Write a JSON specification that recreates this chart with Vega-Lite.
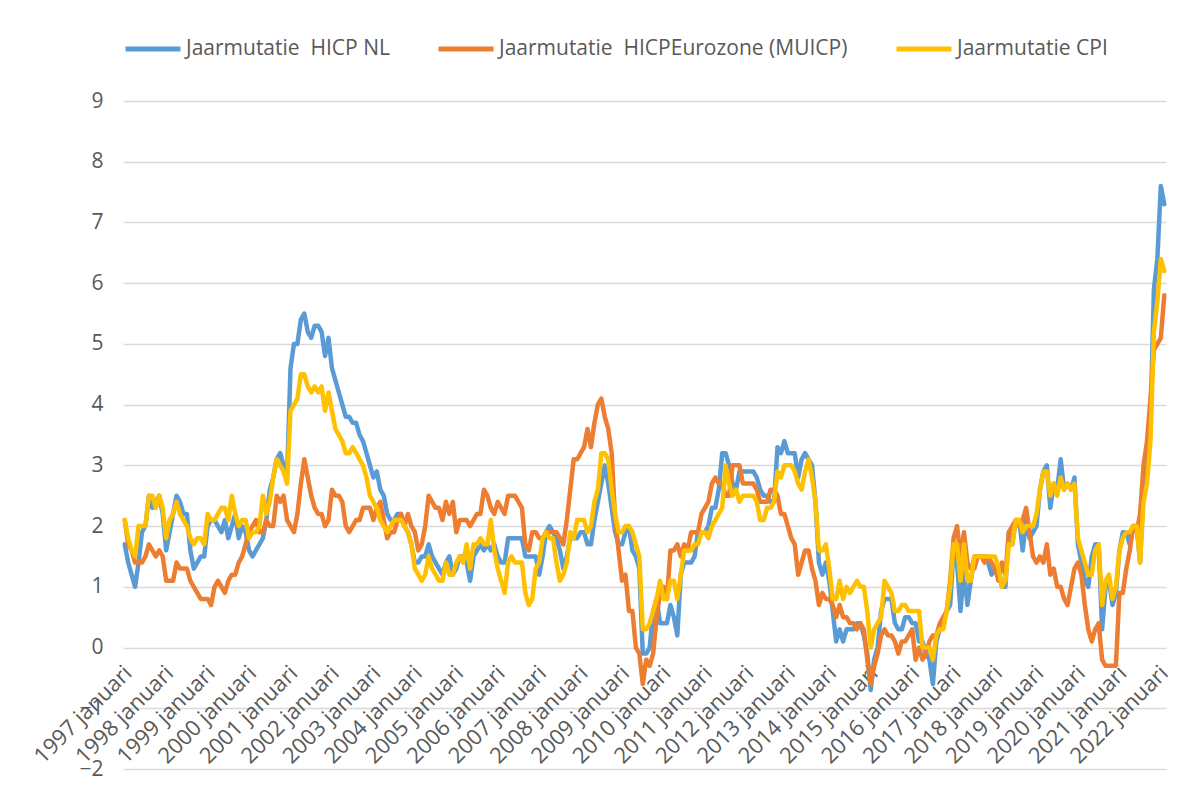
{
  "$schema": "https://vega.github.io/schema/vega-lite/v6.json",
  "width": 1043,
  "height": 668,
  "autosize": "none",
  "padding": {"left": 123, "top": 101, "right": 34, "bottom": 20},
  "background": "white",
  "config": {"view": {"stroke": null}, "font": "Open Sans"},
  "data": {"values": [
{"m":"1997-01","nl":1.7,"ez":2.1,"cpi":2.1},{"m":"1997-02","nl":1.4,"ez":1.7,"cpi":1.8},{"m":"1997-03","nl":1.2,"ez":1.6,"cpi":1.6},{"m":"1997-04","nl":1.0,"ez":1.4,"cpi":1.5},{"m":"1997-05","nl":1.4,"ez":1.4,"cpi":2.0},{"m":"1997-06","nl":1.9,"ez":1.4,"cpi":2.0},{"m":"1997-07","nl":2.0,"ez":1.5,"cpi":2.0},{"m":"1997-08","nl":2.5,"ez":1.7,"cpi":2.5},{"m":"1997-09","nl":2.3,"ez":1.6,"cpi":2.5},{"m":"1997-10","nl":2.4,"ez":1.5,"cpi":2.3},{"m":"1997-11","nl":2.5,"ez":1.6,"cpi":2.5},{"m":"1997-12","nl":2.2,"ez":1.5,"cpi":2.3},
{"m":"1998-01","nl":1.6,"ez":1.1,"cpi":1.8},{"m":"1998-02","nl":1.9,"ez":1.1,"cpi":2.1},{"m":"1998-03","nl":2.2,"ez":1.1,"cpi":2.2},{"m":"1998-04","nl":2.5,"ez":1.4,"cpi":2.4},{"m":"1998-05","nl":2.4,"ez":1.3,"cpi":2.2},{"m":"1998-06","nl":2.2,"ez":1.3,"cpi":2.1},{"m":"1998-07","nl":2.2,"ez":1.3,"cpi":2.0},{"m":"1998-08","nl":1.6,"ez":1.1,"cpi":1.8},{"m":"1998-09","nl":1.3,"ez":1.0,"cpi":1.7},{"m":"1998-10","nl":1.4,"ez":0.9,"cpi":1.8},{"m":"1998-11","nl":1.5,"ez":0.8,"cpi":1.8},{"m":"1998-12","nl":1.5,"ez":0.8,"cpi":1.7},
{"m":"1999-01","nl":2.0,"ez":0.8,"cpi":2.2},{"m":"1999-02","nl":2.1,"ez":0.7,"cpi":2.1},{"m":"1999-03","nl":2.1,"ez":1.0,"cpi":2.1},{"m":"1999-04","nl":2.0,"ez":1.1,"cpi":2.2},{"m":"1999-05","nl":1.9,"ez":1.0,"cpi":2.3},{"m":"1999-06","nl":2.1,"ez":0.9,"cpi":2.3},{"m":"1999-07","nl":1.8,"ez":1.1,"cpi":2.1},{"m":"1999-08","nl":2.0,"ez":1.2,"cpi":2.5},{"m":"1999-09","nl":2.2,"ez":1.2,"cpi":2.2},{"m":"1999-10","nl":1.8,"ez":1.4,"cpi":2.0},{"m":"1999-11","nl":2.0,"ez":1.5,"cpi":2.1},{"m":"1999-12","nl":1.9,"ez":1.7,"cpi":2.1},
{"m":"2000-01","nl":1.6,"ez":1.9,"cpi":1.8},{"m":"2000-02","nl":1.5,"ez":2.0,"cpi":1.9},{"m":"2000-03","nl":1.6,"ez":2.1,"cpi":1.9},{"m":"2000-04","nl":1.7,"ez":1.9,"cpi":2.0},{"m":"2000-05","nl":1.8,"ez":1.9,"cpi":2.5},{"m":"2000-06","nl":2.1,"ez":2.1,"cpi":2.2},{"m":"2000-07","nl":2.6,"ez":2.0,"cpi":2.4},{"m":"2000-08","nl":2.8,"ez":2.0,"cpi":2.8},{"m":"2000-09","nl":3.1,"ez":2.5,"cpi":3.1},{"m":"2000-10","nl":3.2,"ez":2.4,"cpi":3.0},{"m":"2000-11","nl":3.0,"ez":2.5,"cpi":2.9},{"m":"2000-12","nl":2.8,"ez":2.1,"cpi":2.7},
{"m":"2001-01","nl":4.6,"ez":2.0,"cpi":3.9},{"m":"2001-02","nl":5.0,"ez":1.9,"cpi":4.0},{"m":"2001-03","nl":5.0,"ez":2.2,"cpi":4.1},{"m":"2001-04","nl":5.4,"ez":2.7,"cpi":4.5},{"m":"2001-05","nl":5.5,"ez":3.1,"cpi":4.5},{"m":"2001-06","nl":5.2,"ez":2.8,"cpi":4.3},{"m":"2001-07","nl":5.1,"ez":2.5,"cpi":4.2},{"m":"2001-08","nl":5.3,"ez":2.3,"cpi":4.3},{"m":"2001-09","nl":5.3,"ez":2.2,"cpi":4.2},{"m":"2001-10","nl":5.2,"ez":2.2,"cpi":4.3},{"m":"2001-11","nl":4.8,"ez":2.0,"cpi":3.9},{"m":"2001-12","nl":5.1,"ez":2.1,"cpi":4.2},
{"m":"2002-01","nl":4.6,"ez":2.6,"cpi":3.9},{"m":"2002-02","nl":4.4,"ez":2.5,"cpi":3.6},{"m":"2002-03","nl":4.2,"ez":2.5,"cpi":3.5},{"m":"2002-04","nl":4.0,"ez":2.4,"cpi":3.4},{"m":"2002-05","nl":3.8,"ez":2.0,"cpi":3.2},{"m":"2002-06","nl":3.8,"ez":1.9,"cpi":3.2},{"m":"2002-07","nl":3.7,"ez":2.0,"cpi":3.3},{"m":"2002-08","nl":3.7,"ez":2.1,"cpi":3.2},{"m":"2002-09","nl":3.5,"ez":2.1,"cpi":3.1},{"m":"2002-10","nl":3.4,"ez":2.3,"cpi":3.0},{"m":"2002-11","nl":3.2,"ez":2.3,"cpi":2.8},{"m":"2002-12","nl":3.0,"ez":2.3,"cpi":2.5},
{"m":"2003-01","nl":2.8,"ez":2.1,"cpi":2.4},{"m":"2003-02","nl":2.9,"ez":2.3,"cpi":2.3},{"m":"2003-03","nl":2.6,"ez":2.4,"cpi":2.1},{"m":"2003-04","nl":2.5,"ez":2.1,"cpi":2.0},{"m":"2003-05","nl":2.2,"ez":1.8,"cpi":1.9},{"m":"2003-06","nl":2.1,"ez":1.9,"cpi":2.0},{"m":"2003-07","nl":2.1,"ez":1.9,"cpi":2.1},{"m":"2003-08","nl":2.2,"ez":2.1,"cpi":2.1},{"m":"2003-09","nl":2.2,"ez":2.2,"cpi":2.1},{"m":"2003-10","nl":2.0,"ez":2.0,"cpi":2.0},{"m":"2003-11","nl":1.9,"ez":2.2,"cpi":1.9},{"m":"2003-12","nl":1.7,"ez":2.0,"cpi":1.7},
{"m":"2004-01","nl":1.4,"ez":1.9,"cpi":1.3},{"m":"2004-02","nl":1.4,"ez":1.6,"cpi":1.2},{"m":"2004-03","nl":1.5,"ez":1.7,"cpi":1.1},{"m":"2004-04","nl":1.5,"ez":2.0,"cpi":1.2},{"m":"2004-05","nl":1.7,"ez":2.5,"cpi":1.5},{"m":"2004-06","nl":1.5,"ez":2.4,"cpi":1.3},{"m":"2004-07","nl":1.4,"ez":2.3,"cpi":1.2},{"m":"2004-08","nl":1.3,"ez":2.3,"cpi":1.1},{"m":"2004-09","nl":1.2,"ez":2.1,"cpi":1.1},{"m":"2004-10","nl":1.4,"ez":2.4,"cpi":1.4},{"m":"2004-11","nl":1.5,"ez":2.2,"cpi":1.2},{"m":"2004-12","nl":1.2,"ez":2.4,"cpi":1.2},
{"m":"2005-01","nl":1.3,"ez":1.9,"cpi":1.4},{"m":"2005-02","nl":1.5,"ez":2.1,"cpi":1.5},{"m":"2005-03","nl":1.5,"ez":2.1,"cpi":1.4},{"m":"2005-04","nl":1.4,"ez":2.1,"cpi":1.7},{"m":"2005-05","nl":1.1,"ez":2.0,"cpi":1.3},{"m":"2005-06","nl":1.5,"ez":2.1,"cpi":1.7},{"m":"2005-07","nl":1.6,"ez":2.2,"cpi":1.7},{"m":"2005-08","nl":1.7,"ez":2.2,"cpi":1.8},{"m":"2005-09","nl":1.6,"ez":2.6,"cpi":1.7},{"m":"2005-10","nl":1.7,"ez":2.5,"cpi":1.7},{"m":"2005-11","nl":1.6,"ez":2.3,"cpi":2.1},{"m":"2005-12","nl":1.7,"ez":2.2,"cpi":1.6},
{"m":"2006-01","nl":1.5,"ez":2.4,"cpi":1.3},{"m":"2006-02","nl":1.4,"ez":2.3,"cpi":1.1},{"m":"2006-03","nl":1.4,"ez":2.2,"cpi":0.9},{"m":"2006-04","nl":1.8,"ez":2.5,"cpi":1.4},{"m":"2006-05","nl":1.8,"ez":2.5,"cpi":1.5},{"m":"2006-06","nl":1.8,"ez":2.5,"cpi":1.4},{"m":"2006-07","nl":1.8,"ez":2.4,"cpi":1.4},{"m":"2006-08","nl":1.8,"ez":2.3,"cpi":1.4},{"m":"2006-09","nl":1.5,"ez":1.7,"cpi":0.9},{"m":"2006-10","nl":1.5,"ez":1.6,"cpi":0.7},{"m":"2006-11","nl":1.5,"ez":1.9,"cpi":0.8},{"m":"2006-12","nl":1.5,"ez":1.9,"cpi":1.3},
{"m":"2007-01","nl":1.2,"ez":1.8,"cpi":1.4},{"m":"2007-02","nl":1.5,"ez":1.8,"cpi":1.8},{"m":"2007-03","nl":1.9,"ez":1.9,"cpi":1.9},{"m":"2007-04","nl":2.0,"ez":1.9,"cpi":1.8},{"m":"2007-05","nl":1.9,"ez":1.9,"cpi":1.8},{"m":"2007-06","nl":1.8,"ez":1.9,"cpi":1.4},{"m":"2007-07","nl":1.6,"ez":1.8,"cpi":1.1},{"m":"2007-08","nl":1.3,"ez":1.7,"cpi":1.2},{"m":"2007-09","nl":1.5,"ez":2.1,"cpi":1.4},{"m":"2007-10","nl":1.8,"ez":2.6,"cpi":1.9},{"m":"2007-11","nl":1.8,"ez":3.1,"cpi":1.8},{"m":"2007-12","nl":1.8,"ez":3.1,"cpi":2.1},
{"m":"2008-01","nl":1.9,"ez":3.2,"cpi":2.1},{"m":"2008-02","nl":1.9,"ez":3.3,"cpi":2.1},{"m":"2008-03","nl":1.7,"ez":3.6,"cpi":1.9},{"m":"2008-04","nl":1.7,"ez":3.3,"cpi":2.0},{"m":"2008-05","nl":2.1,"ez":3.7,"cpi":2.4},{"m":"2008-06","nl":2.4,"ez":4.0,"cpi":2.6},{"m":"2008-07","nl":2.7,"ez":4.1,"cpi":3.2},{"m":"2008-08","nl":3.0,"ez":3.8,"cpi":3.2},{"m":"2008-09","nl":2.7,"ez":3.6,"cpi":3.1},{"m":"2008-10","nl":2.3,"ez":3.2,"cpi":2.6},{"m":"2008-11","nl":1.9,"ez":2.1,"cpi":2.2},{"m":"2008-12","nl":1.7,"ez":1.6,"cpi":1.9},
{"m":"2009-01","nl":1.7,"ez":1.1,"cpi":1.9},{"m":"2009-02","nl":1.9,"ez":1.2,"cpi":2.0},{"m":"2009-03","nl":2.0,"ez":0.6,"cpi":2.0},{"m":"2009-04","nl":1.6,"ez":0.6,"cpi":1.9},{"m":"2009-05","nl":1.5,"ez":0.0,"cpi":1.7},{"m":"2009-06","nl":1.3,"ez":-0.1,"cpi":1.5},{"m":"2009-07","nl":-0.1,"ez":-0.6,"cpi":0.3},{"m":"2009-08","nl":-0.1,"ez":-0.2,"cpi":0.3},{"m":"2009-09","nl":0.0,"ez":-0.3,"cpi":0.4},{"m":"2009-10","nl":0.6,"ez":-0.1,"cpi":0.6},{"m":"2009-11","nl":0.8,"ez":0.5,"cpi":0.8},{"m":"2009-12","nl":0.4,"ez":0.9,"cpi":1.1},
{"m":"2010-01","nl":0.4,"ez":1.0,"cpi":0.8},{"m":"2010-02","nl":0.4,"ez":0.8,"cpi":0.8},{"m":"2010-03","nl":0.7,"ez":1.6,"cpi":1.1},{"m":"2010-04","nl":0.5,"ez":1.6,"cpi":1.1},{"m":"2010-05","nl":0.2,"ez":1.7,"cpi":0.8},{"m":"2010-06","nl":1.2,"ez":1.5,"cpi":1.2},{"m":"2010-07","nl":1.4,"ez":1.7,"cpi":1.6},{"m":"2010-08","nl":1.4,"ez":1.6,"cpi":1.6},{"m":"2010-09","nl":1.4,"ez":1.9,"cpi":1.6},{"m":"2010-10","nl":1.5,"ez":1.9,"cpi":1.7},{"m":"2010-11","nl":1.9,"ez":1.9,"cpi":1.7},{"m":"2010-12","nl":1.9,"ez":2.2,"cpi":1.9},
{"m":"2011-01","nl":1.9,"ez":2.3,"cpi":1.9},{"m":"2011-02","nl":2.0,"ez":2.4,"cpi":1.8},{"m":"2011-03","nl":2.3,"ez":2.7,"cpi":2.0},{"m":"2011-04","nl":2.3,"ez":2.8,"cpi":2.1},{"m":"2011-05","nl":2.6,"ez":2.7,"cpi":2.2},{"m":"2011-06","nl":3.2,"ez":2.7,"cpi":2.3},{"m":"2011-07","nl":3.2,"ez":2.5,"cpi":3.0},{"m":"2011-08","nl":3.0,"ez":2.5,"cpi":2.7},{"m":"2011-09","nl":2.7,"ez":3.0,"cpi":2.5},{"m":"2011-10","nl":2.6,"ez":3.0,"cpi":2.6},{"m":"2011-11","nl":2.9,"ez":3.0,"cpi":2.4},{"m":"2011-12","nl":2.9,"ez":2.7,"cpi":2.5},
{"m":"2012-01","nl":2.9,"ez":2.7,"cpi":2.5},{"m":"2012-02","nl":2.9,"ez":2.7,"cpi":2.5},{"m":"2012-03","nl":2.9,"ez":2.7,"cpi":2.5},{"m":"2012-04","nl":2.8,"ez":2.6,"cpi":2.4},{"m":"2012-05","nl":2.6,"ez":2.4,"cpi":2.1},{"m":"2012-06","nl":2.5,"ez":2.4,"cpi":2.1},{"m":"2012-07","nl":2.5,"ez":2.4,"cpi":2.3},{"m":"2012-08","nl":2.4,"ez":2.6,"cpi":2.3},{"m":"2012-09","nl":2.4,"ez":2.6,"cpi":2.4},{"m":"2012-10","nl":3.3,"ez":2.5,"cpi":2.9},{"m":"2012-11","nl":3.2,"ez":2.2,"cpi":2.8},{"m":"2012-12","nl":3.4,"ez":2.2,"cpi":3.0},
{"m":"2013-01","nl":3.2,"ez":2.0,"cpi":3.0},{"m":"2013-02","nl":3.2,"ez":1.8,"cpi":3.0},{"m":"2013-03","nl":3.2,"ez":1.7,"cpi":2.9},{"m":"2013-04","nl":2.8,"ez":1.2,"cpi":2.7},{"m":"2013-05","nl":3.1,"ez":1.4,"cpi":2.6},{"m":"2013-06","nl":3.2,"ez":1.6,"cpi":2.9},{"m":"2013-07","nl":3.1,"ez":1.6,"cpi":3.1},{"m":"2013-08","nl":3.0,"ez":1.3,"cpi":2.8},{"m":"2013-09","nl":2.4,"ez":1.1,"cpi":2.4},{"m":"2013-10","nl":1.4,"ez":0.7,"cpi":1.6},{"m":"2013-11","nl":1.2,"ez":0.9,"cpi":1.6},{"m":"2013-12","nl":1.4,"ez":0.8,"cpi":1.7},
{"m":"2014-01","nl":1.1,"ez":0.8,"cpi":1.3},{"m":"2014-02","nl":0.6,"ez":0.7,"cpi":0.8},{"m":"2014-03","nl":0.1,"ez":0.5,"cpi":0.8},{"m":"2014-04","nl":0.3,"ez":0.7,"cpi":1.1},{"m":"2014-05","nl":0.1,"ez":0.5,"cpi":0.8},{"m":"2014-06","nl":0.3,"ez":0.5,"cpi":1.0},{"m":"2014-07","nl":0.3,"ez":0.4,"cpi":0.9},{"m":"2014-08","nl":0.3,"ez":0.4,"cpi":1.0},{"m":"2014-09","nl":0.4,"ez":0.3,"cpi":1.1},{"m":"2014-10","nl":0.4,"ez":0.4,"cpi":1.0},{"m":"2014-11","nl":0.2,"ez":0.3,"cpi":1.0},{"m":"2014-12","nl":-0.1,"ez":-0.2,"cpi":0.6},
{"m":"2015-01","nl":-0.7,"ez":-0.6,"cpi":0.0},{"m":"2015-02","nl":-0.2,"ez":-0.3,"cpi":0.3},{"m":"2015-03","nl":0.0,"ez":-0.1,"cpi":0.4},{"m":"2015-04","nl":0.6,"ez":0.2,"cpi":0.5},{"m":"2015-05","nl":0.8,"ez":0.3,"cpi":1.1},{"m":"2015-06","nl":0.8,"ez":0.2,"cpi":1.0},{"m":"2015-07","nl":0.8,"ez":0.2,"cpi":0.9},{"m":"2015-08","nl":0.4,"ez":0.1,"cpi":0.6},{"m":"2015-09","nl":0.3,"ez":-0.1,"cpi":0.6},{"m":"2015-10","nl":0.3,"ez":0.1,"cpi":0.7},{"m":"2015-11","nl":0.5,"ez":0.1,"cpi":0.7},{"m":"2015-12","nl":0.5,"ez":0.2,"cpi":0.6},
{"m":"2016-01","nl":0.4,"ez":0.3,"cpi":0.6},{"m":"2016-02","nl":0.4,"ez":-0.2,"cpi":0.6},{"m":"2016-03","nl":0.1,"ez":0.0,"cpi":0.6},{"m":"2016-04","nl":0.1,"ez":-0.2,"cpi":0.0},{"m":"2016-05","nl":-0.1,"ez":-0.1,"cpi":0.0},{"m":"2016-06","nl":-0.2,"ez":0.1,"cpi":0.0},{"m":"2016-07","nl":-0.6,"ez":0.2,"cpi":-0.2},{"m":"2016-08","nl":0.1,"ez":0.2,"cpi":0.2},{"m":"2016-09","nl":0.3,"ez":0.4,"cpi":0.3},{"m":"2016-10","nl":0.4,"ez":0.5,"cpi":0.3},{"m":"2016-11","nl":0.6,"ez":0.6,"cpi":0.6},{"m":"2016-12","nl":0.7,"ez":1.1,"cpi":1.0},
{"m":"2017-01","nl":1.6,"ez":1.8,"cpi":1.7},{"m":"2017-02","nl":1.4,"ez":2.0,"cpi":1.7},{"m":"2017-03","nl":0.6,"ez":1.5,"cpi":1.1},{"m":"2017-04","nl":1.3,"ez":1.9,"cpi":1.7},{"m":"2017-05","nl":0.7,"ez":1.4,"cpi":1.1},{"m":"2017-06","nl":1.1,"ez":1.3,"cpi":1.1},{"m":"2017-07","nl":1.5,"ez":1.3,"cpi":1.5},{"m":"2017-08","nl":1.5,"ez":1.5,"cpi":1.5},{"m":"2017-09","nl":1.5,"ez":1.5,"cpi":1.5},{"m":"2017-10","nl":1.5,"ez":1.4,"cpi":1.5},{"m":"2017-11","nl":1.4,"ez":1.5,"cpi":1.5},{"m":"2017-12","nl":1.2,"ez":1.4,"cpi":1.5},
{"m":"2018-01","nl":1.3,"ez":1.3,"cpi":1.5},{"m":"2018-02","nl":1.3,"ez":1.1,"cpi":1.3},{"m":"2018-03","nl":1.0,"ez":1.4,"cpi":1.0},{"m":"2018-04","nl":1.0,"ez":1.2,"cpi":1.1},{"m":"2018-05","nl":1.9,"ez":1.9,"cpi":1.7},{"m":"2018-06","nl":1.7,"ez":2.0,"cpi":1.7},{"m":"2018-07","nl":2.1,"ez":2.1,"cpi":2.1},{"m":"2018-08","nl":2.1,"ez":2.0,"cpi":2.1},{"m":"2018-09","nl":1.6,"ez":2.1,"cpi":1.9},{"m":"2018-10","nl":2.1,"ez":2.3,"cpi":2.0},{"m":"2018-11","nl":1.8,"ez":1.9,"cpi":2.0},{"m":"2018-12","nl":1.9,"ez":1.5,"cpi":2.0},
{"m":"2019-01","nl":2.0,"ez":1.4,"cpi":2.2},{"m":"2019-02","nl":2.6,"ez":1.5,"cpi":2.6},{"m":"2019-03","nl":2.9,"ez":1.4,"cpi":2.9},{"m":"2019-04","nl":3.0,"ez":1.7,"cpi":2.9},{"m":"2019-05","nl":2.3,"ez":1.2,"cpi":2.5},{"m":"2019-06","nl":2.7,"ez":1.3,"cpi":2.7},{"m":"2019-07","nl":2.6,"ez":1.0,"cpi":2.5},{"m":"2019-08","nl":3.1,"ez":1.0,"cpi":2.8},{"m":"2019-09","nl":2.6,"ez":0.8,"cpi":2.6},{"m":"2019-10","nl":2.7,"ez":0.7,"cpi":2.7},{"m":"2019-11","nl":2.6,"ez":1.0,"cpi":2.6},{"m":"2019-12","nl":2.8,"ez":1.3,"cpi":2.7},
{"m":"2020-01","nl":1.7,"ez":1.4,"cpi":1.8},{"m":"2020-02","nl":1.4,"ez":1.2,"cpi":1.6},{"m":"2020-03","nl":1.1,"ez":0.7,"cpi":1.4},{"m":"2020-04","nl":1.0,"ez":0.3,"cpi":1.2},{"m":"2020-05","nl":1.5,"ez":0.1,"cpi":1.2},{"m":"2020-06","nl":1.7,"ez":0.3,"cpi":1.6},{"m":"2020-07","nl":1.7,"ez":0.4,"cpi":1.7},{"m":"2020-08","nl":0.3,"ez":-0.2,"cpi":0.7},{"m":"2020-09","nl":1.0,"ez":-0.3,"cpi":1.1},{"m":"2020-10","nl":1.1,"ez":-0.3,"cpi":1.2},{"m":"2020-11","nl":0.7,"ez":-0.3,"cpi":0.8},{"m":"2020-12","nl":0.9,"ez":-0.3,"cpi":1.0},
{"m":"2021-01","nl":1.6,"ez":0.9,"cpi":1.6},{"m":"2021-02","nl":1.9,"ez":0.9,"cpi":1.8},{"m":"2021-03","nl":1.9,"ez":1.3,"cpi":1.9},{"m":"2021-04","nl":1.7,"ez":1.6,"cpi":1.9},{"m":"2021-05","nl":2.0,"ez":2.0,"cpi":2.0},{"m":"2021-06","nl":2.0,"ez":1.9,"cpi":2.0},{"m":"2021-07","nl":1.4,"ez":2.2,"cpi":1.4},{"m":"2021-08","nl":2.7,"ez":3.0,"cpi":2.4},{"m":"2021-09","nl":3.0,"ez":3.4,"cpi":2.7},{"m":"2021-10","nl":3.7,"ez":4.1,"cpi":3.4},{"m":"2021-11","nl":5.9,"ez":4.9,"cpi":5.2},{"m":"2021-12","nl":6.4,"ez":5.0,"cpi":5.7},
{"m":"2022-01","nl":7.6,"ez":5.1,"cpi":6.4},{"m":"2022-02","nl":7.3,"ez":5.8,"cpi":6.2}
  ]},
  "transform": [{"fold": ["nl", "ez", "cpi"], "as": ["serie", "waarde"]}],
  "mark": {"type": "line", "strokeWidth": 4.5, "strokeJoin": "round", "strokeCap": "round"},
  "encoding": {
    "x": {
      "field": "m", "type": "ordinal",
      "scale": {"type": "point", "padding": 0.5},
      "axis": {
        "title": null, "orient": "bottom", "offset": -122,
        "values": ["1997-01","1998-01","1999-01","2000-01","2001-01","2002-01","2003-01","2004-01","2005-01","2006-01","2007-01","2008-01","2009-01","2010-01","2011-01","2012-01","2013-01","2014-01","2015-01","2016-01","2017-01","2018-01","2019-01","2020-01","2021-01","2022-01"],
        "labelExpr": "slice(datum.value, 0, 4) + ' januari'",
        "labelAngle": -45, "labelAlign": "right", "labelBaseline": "top",
        "labelOffset": -4, "labelPadding": 15,
        "domain": false, "ticks": false, "tickSize": 0, "grid": false,
        "labelFontSize": 22, "labelColor": "#595959", "labelOverlap": false, "labelBound": false, "labelFlush": false
      }
    },
    "y": {
      "field": "waarde", "type": "quantitative",
      "scale": {"domain": [-2, 9], "nice": false, "zero": false},
      "axis": {
        "title": null, "values": [-2, -1, 0, 1, 2, 3, 4, 5, 6, 7, 8, 9],
        "domain": false, "ticks": false, "labelPadding": 20,
        "gridColor": "#d9d9d9", "gridWidth": 1.3,
        "labelFontSize": 21, "labelColor": "#595959"
      }
    },
    "color": {
      "field": "serie", "type": "nominal",
      "scale": {"domain": ["nl", "ez", "cpi"], "range": ["#5B9BD5", "#ED7D31", "#FFC000"]},
      "legend": {
        "title": null, "orient": "none", "direction": "horizontal",
        "legendX": 0, "legendY": -82,
        "symbolType": "stroke", "symbolSize": 3025, "symbolStrokeWidth": 5,
        "labelFontSize": 21, "labelColor": "#595959", "labelOffset": 3, "labelLimit": 600,
        "columnPadding": 38,
        "labelExpr": "datum.value == 'nl' ? 'Jaarmutatie\u00a0 HICP NL' : datum.value == 'ez' ? 'Jaarmutatie\u00a0 HICPEurozone (MUICP)' : 'Jaarmutatie CPI'"
      }
    }
  }
}
